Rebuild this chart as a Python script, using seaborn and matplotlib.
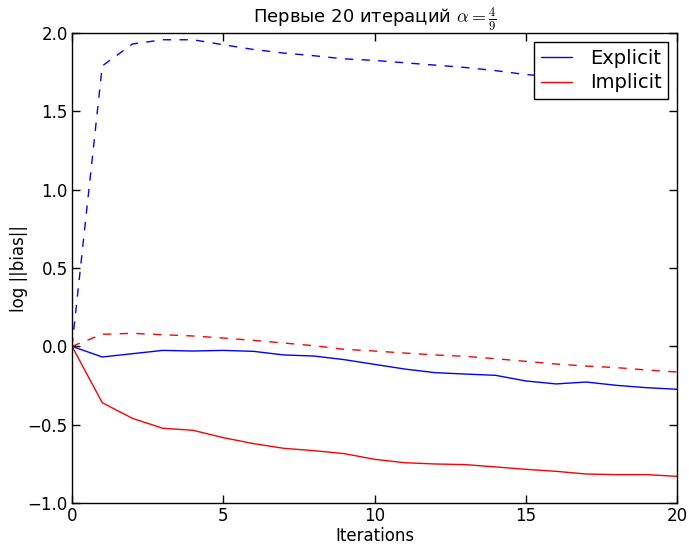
import numpy as np
import pandas as pd
import matplotlib
matplotlib.use('Agg')
import matplotlib.pyplot as plt
import seaborn as sns

sns.set_style('ticks')
plt.rcParams['font.family'] = ['DejaVu Sans']
plt.rcParams['mathtext.fontset'] = 'cm'
plt.rcParams['xtick.direction'] = 'in'
plt.rcParams['ytick.direction'] = 'in'
plt.rcParams['xtick.top'] = True
plt.rcParams['ytick.right'] = True
for key in ['text.color', 'axes.labelcolor', 'xtick.color', 'ytick.color', 'axes.edgecolor']:
    plt.rcParams[key] = 'black'

iterations = list(range(21))
explicit_solid = [0.0, -0.068, -0.047, -0.026, -0.030, -0.026, -0.032, -0.055, -0.062, -0.085,
                  -0.115, -0.145, -0.168, -0.177, -0.185, -0.221, -0.240, -0.228, -0.249, -0.264, -0.274]
explicit_dashed = [0.0, 1.79, 1.93, 1.957, 1.957, 1.925, 1.895, 1.872, 1.855, 1.835,
                   1.825, 1.81, 1.795, 1.78, 1.76, 1.735, 1.72, 1.70, 1.685, 1.665, 1.645]
implicit_solid = [0.0, -0.36, -0.46, -0.523, -0.536, -0.583, -0.621, -0.651, -0.666, -0.685,
                  -0.721, -0.743, -0.751, -0.755, -0.770, -0.785, -0.798, -0.815, -0.819, -0.819, -0.830]
implicit_dashed = [0.0, 0.077, 0.083, 0.074, 0.066, 0.053, 0.038, 0.021, 0.004, -0.019,
                   -0.030, -0.043, -0.055, -0.064, -0.079, -0.096, -0.113, -0.126, -0.136, -0.151, -0.164]

fig = plt.figure(figsize=(6.89, 5.44), dpi=100)
ax = fig.add_axes([0.1045, 0.0754, 0.8781, 0.8639])

sns.lineplot(x=iterations, y=explicit_solid, color='b', lw=1, ax=ax, label='Explicit')
sns.lineplot(x=iterations, y=implicit_solid, color='r', lw=1, ax=ax, label='Implicit')
sns.lineplot(x=iterations, y=explicit_dashed, color='b', lw=1, ls='--', dashes=False, ax=ax)
sns.lineplot(x=iterations, y=implicit_dashed, color='r', lw=1, ls='--', dashes=False, ax=ax)
for line in ax.lines[2:]:
    line.set_dashes((6, 6))

ax.set_xlim(0, 20)
ax.set_ylim(-1.0, 2.0)
ax.set_xticks([0, 5, 10, 15, 20])
ax.set_yticks(np.arange(-1.0, 2.01, 0.5))
ax.set_yticklabels([f'{v:.1f}'.replace('-', '\u2212') for v in np.arange(-1.0, 2.01, 0.5)])
ax.tick_params(labelsize=12, length=6, width=1, color='black', pad=3)
for s in ax.spines.values():
    s.set_color('black')
    s.set_linewidth(1)

ax.set_xlabel('Iterations', fontsize=12, labelpad=1)
ax.set_ylabel('log ||bias||', fontsize=12, labelpad=0)
ax.set_title(r'Первые 20 итераций $\alpha=\frac{4}{9}$', fontsize=13, pad=6)

handles = ax.lines[:2]
leg = ax.legend(handles, ['Explicit', 'Implicit'], loc='upper right', fontsize=14,
                frameon=True, fancybox=False, edgecolor='black', framealpha=1,
                handlelength=1.6, handletextpad=0.9, borderaxespad=0.45,
                borderpad=0.35, labelspacing=0.3)
leg.get_frame().set_linewidth(1)

fig.savefig('out.png', dpi=100)
